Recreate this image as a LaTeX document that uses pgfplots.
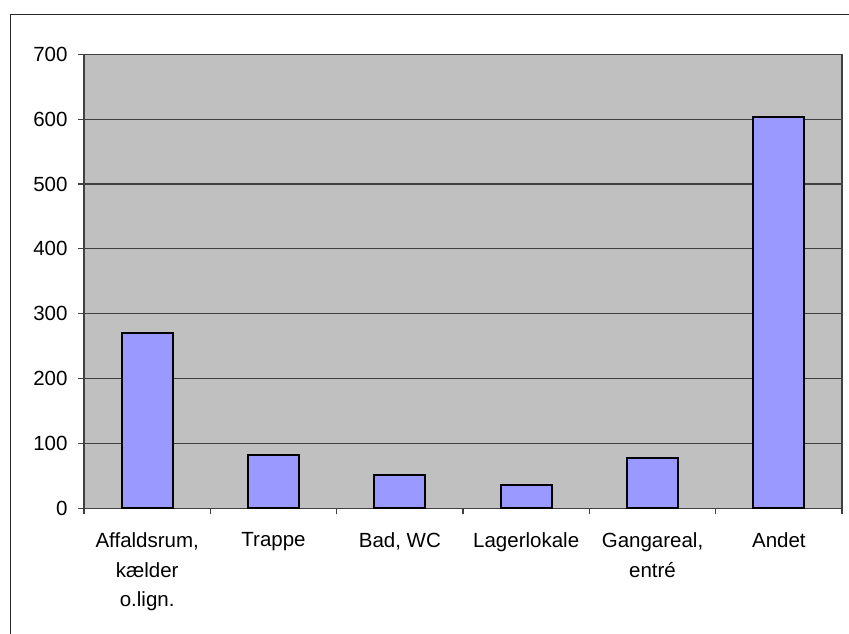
\documentclass[border=0pt]{standalone}
\usepackage{pgfplots}
\pgfplotsset{compat=1.18}
\usepackage{fontspec}
\setmainfont{Liberation Sans}
\definecolor{barfill}{HTML}{9999FF}
\definecolor{plotbg}{HTML}{C0C0C0}
\definecolor{gridc}{HTML}{404040}
\begin{document}
\begin{tikzpicture}
\path[use as bounding box] (0pt,0pt) rectangle (849pt,633pt);
\draw[line width=1.3pt, black!85] (10.5pt,-5pt) -- (10.5pt,618.5pt) -- (860pt,618.5pt);
\begin{axis}[
    at={(84pt,124.7pt)}, anchor=south west,
    scale only axis,
    width=758pt, height=454pt,
    ybar, bar width=0.404,
    xmin=-0.5, xmax=5.5,
    ymin=0, ymax=700,
    ytick={0,100,...,700},
    xtick={-0.5,0.5,1.5,2.5,3.5,4.5,5.5},
    xticklabels={{Affaldsrum,\\kælder\\o.lign.},Trappe,{Bad, WC},Lagerlokale,{Gangareal,\\entré},Andet,{}},
    x tick label style={align=center, xshift=63.2pt, yshift=-15pt},
    y tick label style={xshift=-7pt},
    tick label style={font=\fontsize{20.5}{29.5}\selectfont},
    /pgf/number format/assume math mode=true,
    xtick pos=bottom, ytick pos=left,
    tick align=outside,
    major tick length=6pt,
    tick style={gridc, line width=1.2pt},
    ymajorgrids=true,
    grid style={gridc, line width=1.2pt},
    axis line style={gridc, line width=1.3pt},
    axis background/.style={fill=plotbg},
]
  \addplot[fill=barfill, draw=black, line width=1.8pt] coordinates {(0,270) (1,82) (2,51) (3,36) (4,78) (5,603)};
\end{axis}
\end{tikzpicture}
\end{document}
